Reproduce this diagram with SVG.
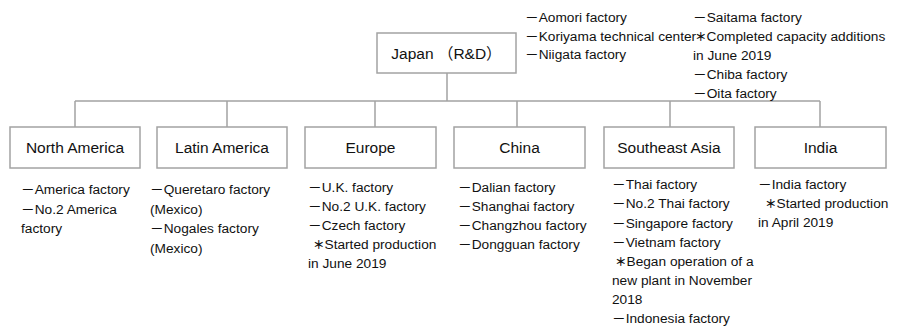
<svg xmlns="http://www.w3.org/2000/svg" width="897" height="327" viewBox="0 0 897 327">
<style>
.box{fill:#fff;stroke:#a3a3a3;stroke-width:1.5}
.ln{fill:none;stroke:#a3a3a3;stroke-width:1.5}
.lbl{font-family:"Liberation Sans","Noto Sans CJK JP",sans-serif;font-size:15.5px;fill:#111;text-anchor:middle}
.it{font-family:"Liberation Sans","Noto Sans CJK JP",sans-serif;font-size:13.7px;fill:#111}
.ast{font-size:11.5px;font-weight:bold}
</style>
<rect width="897" height="327" fill="#fff"/>
<g id="connectors">
<path class="ln" d="M447 73V101M75 101H820M75 101V127M227 101V127M375 101V127M517 101V127M670 101V127M820 101V127"/>
</g>
<g id="japan">
<rect class="box" x="377" y="33" width="139" height="40"/>
<text class="lbl" x="446.5" y="58.5">Japan （R&amp;D）</text>
<text class="it" x="525" y="22">－Aomori factory</text>
<text class="it" x="525" y="40.5">－Koriyama technical center</text>
<text class="it" x="525" y="59">－Niigata factory</text>
<text class="it" x="693" y="22">－Saitama factory</text>
<text class="it" x="695" y="41"><tspan class="ast">＊</tspan>Completed capacity additions</text>
<text class="it" x="693" y="60">in June 2019</text>
<text class="it" x="693" y="79">－Chiba factory</text>
<text class="it" x="693" y="97.5">－Oita factory</text>
</g>
<g id="north-america">
<rect class="box" x="10" y="127" width="130" height="41"/>
<text class="lbl" x="75" y="153">North America</text>
<text class="it" x="21" y="194">－America factory</text>
<text class="it" x="21" y="213.5">－No.2 America</text>
<text class="it" x="21" y="233">factory</text>
</g>
<g id="latin-america">
<rect class="box" x="157" y="127" width="130" height="41"/>
<text class="lbl" x="222" y="153">Latin America</text>
<text class="it" x="150" y="194">－Queretaro factory</text>
<text class="it" x="150" y="213.5">(Mexico)</text>
<text class="it" x="150" y="233">－Nogales factory</text>
<text class="it" x="150" y="252.5">(Mexico)</text>
</g>
<g id="europe">
<rect class="box" x="305" y="127" width="131" height="41"/>
<text class="lbl" x="370.5" y="153">Europe</text>
<text class="it" x="308" y="191.5">－U.K. factory</text>
<text class="it" x="308" y="210.5">－No.2 U.K. factory</text>
<text class="it" x="308" y="229.5">－Czech factory</text>
<text class="it" x="313" y="248.5"><tspan class="ast">＊</tspan>Started production</text>
<text class="it" x="308" y="267.5">in June 2019</text>
</g>
<g id="china">
<rect class="box" x="454" y="127" width="131" height="41"/>
<text class="lbl" x="519.5" y="153">China</text>
<text class="it" x="458" y="191.5">－Dalian factory</text>
<text class="it" x="458" y="210.5">－Shanghai factory</text>
<text class="it" x="458" y="229.5">－Changzhou factory</text>
<text class="it" x="458" y="248.5">－Dongguan factory</text>
</g>
<g id="southeast-asia">
<rect class="box" x="604" y="127" width="130" height="41"/>
<text class="lbl" x="669" y="153">Southeast Asia</text>
<text class="it" x="612" y="189">－Thai factory</text>
<text class="it" x="612" y="208">－No.2 Thai factory</text>
<text class="it" x="612" y="227.5">－Singapore factory</text>
<text class="it" x="612" y="246.5">－Vietnam factory</text>
<text class="it" x="615" y="266"><tspan class="ast">＊</tspan>Began operation of a</text>
<text class="it" x="612" y="285">new plant in November</text>
<text class="it" x="612" y="304">2018</text>
<text class="it" x="612" y="323">－Indonesia factory</text>
</g>
<g id="india">
<rect class="box" x="755" y="127" width="131" height="41"/>
<text class="lbl" x="820.5" y="153">India</text>
<text class="it" x="758" y="189">－India factory</text>
<text class="it" x="765" y="208"><tspan class="ast">＊</tspan>Started production</text>
<text class="it" x="758" y="227">in April 2019</text>
</g>
</svg>
